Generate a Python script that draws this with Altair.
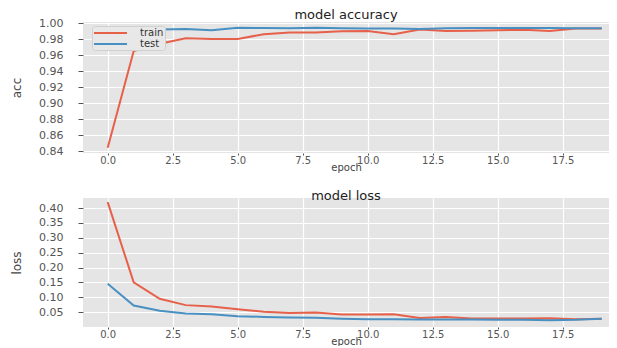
import altair as alt
import pandas as pd

epochs = list(range(20))
acc_train = [0.844, 0.965, 0.974, 0.981, 0.980, 0.980, 0.986, 0.988, 0.988, 0.9896,
             0.990, 0.986, 0.992, 0.990, 0.9904, 0.991, 0.9917, 0.990, 0.993, 0.993]
acc_test = [0.987, 0.990, 0.992, 0.9925, 0.991, 0.994, 0.9938, 0.9933, 0.9942, 0.9933,
            0.9930, 0.9930, 0.9925, 0.9933, 0.9938, 0.9938, 0.9938, 0.9938, 0.9933, 0.9933]
loss_train = [0.42, 0.15, 0.095, 0.0736, 0.069, 0.060, 0.051, 0.0467, 0.049, 0.042,
              0.042, 0.043, 0.030, 0.034, 0.0286, 0.0286, 0.0286, 0.0298, 0.026, 0.0275]
loss_test = [0.1455, 0.0725, 0.0545, 0.0455, 0.043, 0.0365, 0.034, 0.032, 0.031, 0.028,
             0.026, 0.026, 0.025, 0.025, 0.025, 0.024, 0.024, 0.023, 0.024, 0.0275]
series = ["train", "test"]
colors = ["#E6604A", "#4990C2"]
x_ticks = [0, 2.5, 5, 7.5, 10, 12.5, 15, 17.5]
acc_ticks = [0.84, 0.86, 0.88, 0.90, 0.92, 0.94, 0.96, 0.98, 1.00]
loss_ticks = [0.05, 0.10, 0.15, 0.20, 0.25, 0.30, 0.35, 0.40]


def long(train, test, name):
    rows = []
    for s, vals in zip(series, [train, test]):
        for e, v in zip(epochs, vals):
            rows.append({"epoch": e, name: v, "series": s})
    return pd.DataFrame(rows)


acc_df = long(acc_train, acc_test, "acc")
loss_df = long(loss_train, loss_test, "loss")

FONT = "DejaVu Sans"
W = 526
xdom = [-0.95, -0.95 + W / 26.0]

color = alt.Color(
    "series:N",
    scale=alt.Scale(domain=series, range=colors),
    sort=series,
    legend=alt.Legend(
        title=None, orient="none", legendX=9, legendY=4,
        symbolType="M-1,0L5.6,0", symbolStrokeWidth=2, symbolSize=100,
        labelFontSize=10, labelColor="#333333", labelFont=FONT,
        fillColor="#E8E8E8", strokeColor="#D0D0D0", padding=1, rowPadding=0,
        cornerRadius=3, labelOffset=35,
    ),
)


def panel(df, field, title, ydom, yticks, h):
    return (
        alt.Chart(df, title=alt.Title(title, fontSize=13, font=FONT, fontWeight="normal",
                                      color="#222222", offset=-5))
        .mark_line(strokeWidth=2, clip=True)
        .encode(
            x=alt.X("epoch:Q", scale=alt.Scale(domain=xdom, nice=False, zero=False),
                    axis=alt.Axis(values=x_ticks, format=".1f", title="epoch")),
            y=alt.Y(f"{field}:Q", scale=alt.Scale(domain=ydom, nice=False, zero=False),
                    axis=alt.Axis(values=yticks, format=".2f", title=field)),
            color=color,
        )
        .properties(width=W, height=h)
    )


top = panel(acc_df, "acc", "model accuracy", [0.8375, 1.00125], acc_ticks, 131)
bot = panel(loss_df, "loss", "model loss", [0.0, 0.434], loss_ticks, 129)

chart = (
    alt.vconcat(top, bot, spacing=18)
    .properties(padding={"left": 2, "top": 0, "right": 0, "bottom": 0})
    .configure_view(fill="#E5E5E5", stroke=None)
    .configure_axis(
        grid=True, gridColor="#FFFFFF", gridWidth=1.2, domain=False,
        tickColor="#555555", labelColor="#555555", labelFont=FONT,
        labelFontSize=11, titleFont=FONT, titleFontSize=12,
        titleFontWeight="normal", titleColor="#444444",
    )
    .configure_axisY(titlePadding=15, labelPadding=15, tickSize=5)
    .configure_axisX(titlePadding=-3, labelPadding=0, tickSize=2, labelFontSize=10,
                     titleFontSize=10)
)

chart.save("out.html", embed_options={"renderer": "svg", "actions": False})
